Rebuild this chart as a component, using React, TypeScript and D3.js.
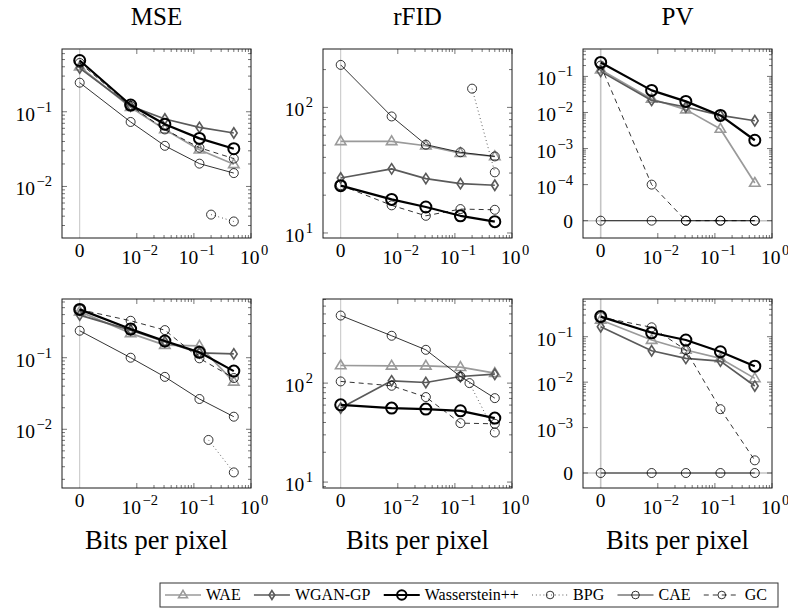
import React from 'react';
import * as d3 from 'd3';

// ---------------- data ----------------
const BPP = [0, 0.0078, 0.031, 0.125, 0.5];
const BPG_BPP_TOP = [0.2, 0.5];
const BPG_BPP_BOTTOM = [0.18, 0.5];

const TITLES = ['MSE', 'rFID', 'PV'];
const X_LABEL = 'Bits per pixel';
const LEGEND = ['WAE', 'WGAN-GP', 'Wasserstein++', 'BPG', 'CAE', 'GC'];

// Row 1
const MSE1_WAE = [0.4, 0.115, 0.058, 0.031, 0.0198];
const MSE1_WGAN = [0.384, 0.119, 0.08, 0.0617, 0.052];
const MSE1_WPP = [0.485, 0.123, 0.068, 0.044, 0.032];
const MSE1_BPG = [0.0042, 0.0034];
const MSE1_CAE = [0.245, 0.073, 0.035, 0.0202, 0.0151];
const MSE1_GC = [0.45, 0.12, 0.058, 0.033, 0.0236];

const FID1_WAE = [53.7, 53.7, 49.5, 43.3, 40.7];
const FID1_WGAN = [27.4, 32.4, 27.1, 24.7, 24.0];
const FID1_WPP = [23.8, 18.5, 16.1, 13.7, 12.3];
const FID1_BPG = [141, 30.4];
const FID1_CAE = [218, 84.7, 50.5, 43.9, 40.7];
const FID1_GC = [24, 16.6, 13.7, 15.5, 15.3];

const PV1_WAE = [0.153, 0.0237, 0.012, 0.0035, 0.000111];
const PV1_WGAN = [0.138, 0.0216, 0.0142, 0.0083, 0.0059];
const PV1_WPP = [0.244, 0.041, 0.0203, 0.0083, 0.0017];
const PV1_CAE = [0, 0, 0, 0, 0];
const PV1_GC = [0.2, 0.0001, 0, 0, 0];

// Row 2
const MSE2_WAE = [0.44, 0.219, 0.15, 0.146, 0.046];
const MSE2_WGAN = [0.394, 0.243, 0.167, 0.117, 0.113];
const MSE2_WPP = [0.473, 0.251, 0.171, 0.119, 0.065];
const MSE2_BPG = [0.0071, 0.0025];
const MSE2_CAE = [0.238, 0.1, 0.054, 0.0265, 0.015];
const MSE2_GC = [0.47, 0.328, 0.243, 0.098, 0.052];

const FID2_WAE = [150.6, 149.6, 149.6, 145, 126];
const FID2_WGAN = [55.9, 105.5, 101.4, 116.6, 123];
const FID2_WPP = [60.3, 55.9, 54.6, 52.5, 44.3];
const FID2_BPG = [100, 31.7];
const FID2_CAE = [482, 301, 217, 116.6, 70.5];
const FID2_GC = [104, 94, 72.3, 39.4, 38.8];

const PV2_WAE = [0.234, 0.0845, 0.051, 0.0333, 0.0121];
const PV2_WGAN = [0.166, 0.049, 0.0333, 0.0291, 0.0082];
const PV2_WPP = [0.277, 0.122, 0.0845, 0.0467, 0.0225];
const PV2_CAE = [0, 0, 0, 0, 0];
const PV2_GC = [0.27, 0.161, 0.051, 0.00254, 0.00019];

// ---------------- styles ----------------
type Marker = 'tri' | 'dia' | 'circ';
interface Style { color: string; width: number; dash?: string; marker: Marker; r: number; mw: number }
const STYLES: Record<string, Style> = {
  'WAE': { color: '#9a9a9a', width: 1.7, marker: 'tri', r: 5.5, mw: 1.6 },
  'WGAN-GP': { color: '#5a5a5a', width: 1.7, marker: 'dia', r: 5.2, mw: 1.6 },
  'Wasserstein++': { color: '#000', width: 2.2, marker: 'circ', r: 5.5, mw: 2 },
  'BPG': { color: '#000', width: 0.8, dash: '0.8,3', marker: 'circ', r: 4.5, mw: 0.8 },
  'CAE': { color: '#000', width: 0.8, marker: 'circ', r: 4.5, mw: 0.8 },
  'GC': { color: '#000', width: 0.8, dash: '5,4', marker: 'circ', r: 4.5, mw: 0.8 },
};

interface SeriesDef { name: string; xs: number[]; ys: number[] }
interface PanelDef {
  col: number; row: number;
  yLog: [number, number];
  yMajor: number[]; // exponents
  zeroExp: number | null;
  series: SeriesDef[];
}

const mk = (wae: number[], wgan: number[], wpp: number[], bpg: number[] | null, bpgX: number[], cae: number[], gc: number[]): SeriesDef[] => {
  const s: SeriesDef[] = [
    { name: 'WAE', xs: BPP, ys: wae },
    { name: 'WGAN-GP', xs: BPP, ys: wgan },
    { name: 'Wasserstein++', xs: BPP, ys: wpp },
  ];
  if (bpg) s.push({ name: 'BPG', xs: bpgX, ys: bpg });
  s.push({ name: 'CAE', xs: BPP, ys: cae });
  s.push({ name: 'GC', xs: BPP, ys: gc });
  return s;
};

const PANELS: PanelDef[] = [
  { col: 0, row: 0, yLog: [-2.69, -0.16], yMajor: [-2, -1], zeroExp: null, series: mk(MSE1_WAE, MSE1_WGAN, MSE1_WPP, MSE1_BPG, BPG_BPP_TOP, MSE1_CAE, MSE1_GC) },
  { col: 1, row: 0, yLog: [0.96, 2.465], yMajor: [1, 2], zeroExp: null, series: mk(FID1_WAE, FID1_WGAN, FID1_WPP, FID1_BPG, BPG_BPP_TOP, FID1_CAE, FID1_GC) },
  { col: 2, row: 0, yLog: [-5.48, -0.24], yMajor: [-4, -3, -2, -1], zeroExp: -5, series: mk(PV1_WAE, PV1_WGAN, PV1_WPP, null, BPG_BPP_TOP, PV1_CAE, PV1_GC) },
  { col: 0, row: 1, yLog: [-2.82, -0.18], yMajor: [-2, -1], zeroExp: null, series: mk(MSE2_WAE, MSE2_WGAN, MSE2_WPP, MSE2_BPG, BPG_BPP_BOTTOM, MSE2_CAE, MSE2_GC) },
  { col: 1, row: 1, yLog: [0.94, 2.85], yMajor: [1, 2], zeroExp: null, series: mk(FID2_WAE, FID2_WGAN, FID2_WPP, FID2_BPG, BPG_BPP_BOTTOM, FID2_CAE, FID2_GC) },
  { col: 2, row: 1, yLog: [-4.33, -0.17], yMajor: [-3, -2, -1], zeroExp: -4, series: mk(PV2_WAE, PV2_WGAN, PV2_WPP, null, BPG_BPP_BOTTOM, PV2_CAE, PV2_GC) },
];

// ---------------- layout ----------------
const COL_X = [62, 323, 583];
const ROW_Y = [49, 299];
const PW = 189;
const PH = 189;
const X_LOG: [number, number] = [-3.31, 0];
const X_ZERO = -3;
const FONT = '"Liberation Serif", "DejaVu Serif", serif';
const AXIS_COLOR = '#1a1a1a';
const TICK_FS = 19.5;
const SUP_FS = 14.5;

const MarkerShape: React.FC<{ m: Marker; x: number; y: number; st: Style }> = ({ m, x, y, st }) => {
  if (m === 'circ') return <circle cx={x} cy={y} r={st.r} fill="none" stroke={st.color} strokeWidth={st.mw} />;
  if (m === 'tri') {
    const r = st.r;
    const p = d3.path();
    p.moveTo(x, y - r); p.lineTo(x + r * 0.95, y + r * 0.6); p.lineTo(x - r * 0.95, y + r * 0.6); p.closePath();
    return <path d={p.toString()} fill="none" stroke={st.color} strokeWidth={st.mw} strokeLinejoin="miter" />;
  }
  const p = d3.path();
  const h = st.r, w = st.r * 0.65;
  p.moveTo(x, y - h); p.lineTo(x + w, y); p.lineTo(x, y + h); p.lineTo(x - w, y); p.closePath();
  return <path d={p.toString()} fill="none" stroke={st.color} strokeWidth={st.mw} />;
};

const Pow: React.FC<{ x: number; y: number; exp: string; anchor: string }> = ({ x, y, exp, anchor }) => (
  <text x={x} y={y} fontFamily={FONT} fontSize={TICK_FS} textAnchor={anchor} fill="#000">
    <tspan>10</tspan>
    <tspan dx={1.5} dy={-9} fontSize={SUP_FS}>{exp}</tspan>
  </text>
);

const expLabel = (e: number) => (e < 0 ? `\u2212${-e}` : `${e}`);

const Panel: React.FC<{ p: PanelDef }> = ({ p }) => {
  const x0 = COL_X[p.col];
  const y0 = ROW_Y[p.row];
  const xs = d3.scaleLog().domain([10 ** X_LOG[0], 10 ** X_LOG[1]]).range([0, PW]);
  const ys = d3.scaleLog().domain([10 ** p.yLog[0], 10 ** p.yLog[1]]).range([PH, 0]);
  const fx = (v: number) => xs(v === 0 ? 10 ** X_ZERO : v);
  const fy = (v: number) => ys(v === 0 ? 10 ** (p.zeroExp ?? -10) : v);

  const xMajor = [-2, -1, 0];
  const xMinor: number[] = [];
  for (let k = -2; k < 0; k++) for (let m = 2; m <= 9; m++) xMinor.push(m * 10 ** k);
  const yMinor: number[] = [];
  const kStart = Math.floor(p.yLog[0]);
  const kEnd = Math.ceil(p.yLog[1]);
  for (let k = kStart; k <= kEnd; k++) {
    if (p.zeroExp !== null && k <= p.zeroExp) continue;
    for (let m = 2; m <= 9; m++) {
      const v = m * 10 ** k;
      const l = Math.log10(v);
      if (l > p.yLog[0] && l < p.yLog[1]) yMinor.push(v);
    }
  }
  const yMajorVals = p.yMajor.map((e) => 10 ** e);
  const yMajorAll: number[] = [];
  for (let k = kStart; k <= kEnd; k++) {
    if (p.zeroExp !== null && k <= p.zeroExp) continue;
    if (k >= p.yLog[0] && k <= p.yLog[1]) yMajorAll.push(10 ** k);
  }

  const line = d3.line<[number, number]>().x((d) => d[0]).y((d) => d[1]);
  const MAJ = 5, MIN = 3;
  const cid = `clip-${p.col}-${p.row}`;

  return (
    <g transform={`translate(${x0},${y0})`}>
      <defs>
        <clipPath id={cid}>
          <rect x={-8} y={-8} width={PW + 16} height={PH + 16} />
        </clipPath>
      </defs>
      <line x1={fx(0)} x2={fx(0)} y1={0} y2={PH} stroke="#c4c4c4" strokeWidth={p.zeroExp !== null ? 1.6 : 1} />
      {p.zeroExp !== null && (
        <line x1={0} x2={PW} y1={fy(0)} y2={fy(0)} stroke="#c4c4c4" strokeWidth={1.6} />
      )}
      {xMinor.map((v, i) => (
        <g key={`xm${i}`} stroke={AXIS_COLOR} strokeWidth={0.6}>
          <line x1={xs(v)} x2={xs(v)} y1={PH} y2={PH - MIN} />
          <line x1={xs(v)} x2={xs(v)} y1={0} y2={MIN} />
        </g>
      ))}
      {xMajor.map((e, i) => (
        <g key={`xM${i}`} stroke={AXIS_COLOR} strokeWidth={0.6}>
          <line x1={xs(10 ** e)} x2={xs(10 ** e)} y1={PH} y2={PH - MAJ} />
          <line x1={xs(10 ** e)} x2={xs(10 ** e)} y1={0} y2={MAJ} />
        </g>
      ))}
      {yMinor.map((v, i) => (
        <g key={`ym${i}`} stroke={AXIS_COLOR} strokeWidth={0.6}>
          <line x1={0} x2={MIN} y1={ys(v)} y2={ys(v)} />
          <line x1={PW} x2={PW - MIN} y1={ys(v)} y2={ys(v)} />
        </g>
      ))}
      {yMajorAll.map((v, i) => (
        <g key={`yM${i}`} stroke={AXIS_COLOR} strokeWidth={0.6}>
          <line x1={0} x2={MAJ} y1={ys(v)} y2={ys(v)} />
          <line x1={PW} x2={PW - MAJ} y1={ys(v)} y2={ys(v)} />
        </g>
      ))}
      {p.zeroExp !== null && (
        <g stroke={AXIS_COLOR} strokeWidth={0.6}>
          <line x1={0} x2={MAJ} y1={fy(0)} y2={fy(0)} />
          <line x1={PW} x2={PW - MAJ} y1={fy(0)} y2={fy(0)} />
        </g>
      )}
      <g clipPath={`url(#${cid})`}>
        {p.series.map((s) => {
          const st = STYLES[s.name];
          const pts: [number, number][] = s.xs.map((xv, i) => [fx(xv), fy(s.ys[i])]);
          return (
            <g key={s.name}>
              <path d={line(pts) || ''} fill="none" stroke={st.color} strokeWidth={st.width} strokeDasharray={st.dash} strokeLinejoin="round" />
              {pts.map((pt, i) => <MarkerShape key={i} m={st.marker} x={pt[0]} y={pt[1]} st={st} />)}
            </g>
          );
        })}
      </g>
      <rect x={0} y={0} width={PW} height={PH} fill="none" stroke={AXIS_COLOR} strokeWidth={1} />
      <text x={fx(0)} y={PH + 19} fontFamily={FONT} fontSize={TICK_FS} textAnchor="middle">0</text>
      {xMajor.map((e) => (
        <Pow key={`xl${e}`} x={xs(10 ** e) + 3} y={PH + 26} exp={expLabel(e)} anchor="middle" />
      ))}
      {yMajorVals.map((v, i) => (
        <Pow key={`yl${i}`} x={-10} y={ys(v) + 9} exp={expLabel(p.yMajor[i])} anchor="end" />
      ))}
      {p.zeroExp !== null && (
        <text x={-10} y={fy(0) + 7} fontFamily={FONT} fontSize={TICK_FS} textAnchor="end">0</text>
      )}
      {p.row === 0 && (
        <text x={PW / 2} y={-24} fontFamily={FONT} fontSize={25} textAnchor="middle">{TITLES[p.col]}</text>
      )}
      {p.row === 1 && (
        <text x={PW / 2} y={PH + 61} fontFamily={FONT} fontSize={26.5} textAnchor="middle">{X_LABEL}</text>
      )}
    </g>
  );
};

const LEG_FS = 16;
const measure = (() => {
  let ctx: CanvasRenderingContext2D | null = null;
  return (s: string) => {
    if (!ctx && typeof document !== 'undefined') {
      ctx = document.createElement('canvas').getContext('2d');
    }
    if (!ctx) return s.length * LEG_FS * 0.5;
    ctx.font = `${LEG_FS}px "Liberation Serif"`;
    return ctx.measureText(s).width;
  };
})();

const Legend: React.FC = () => {
  const bx = 160, by = 583, bw = 618, bh = 24;
  const cy = by + bh / 2;
  const sampleW = 36;
  const pad = 5, gapText = 5;
  const widths = LEGEND.map((n) => measure(n));
  const used = widths.reduce((a, b) => a + b, 0) + LEGEND.length * (sampleW + gapText);
  const gap = (bw - 2 * pad - 6 - used) / (LEGEND.length - 1);
  let cx = bx + pad;
  const entries = LEGEND.map((n, i) => {
    const e = { name: n, x: cx };
    cx += sampleW + gapText + widths[i] + gap;
    return e;
  });
  return (
    <g>
      <rect x={bx} y={by} width={bw} height={bh} fill="#fff" stroke="#333" strokeWidth={1} />
      {entries.map((e) => {
        const st = STYLES[e.name];
        return (
          <g key={e.name}>
            <line x1={e.x} x2={e.x + sampleW} y1={cy} y2={cy} stroke={st.color} strokeWidth={st.width} strokeDasharray={st.dash} />
            <MarkerShape m={st.marker} x={e.x + sampleW / 2} y={cy} st={{ ...st, r: st.r * 0.85 }} />
            <text x={e.x + sampleW + gapText} y={cy + 5} fontFamily={FONT} fontSize={LEG_FS}>{e.name}</text>
          </g>
        );
      })}
    </g>
  );
};

export default function App() {
  return (
    <svg width={788} height={616} style={{ position: 'absolute', left: 0, top: 0, background: '#fff' }}>
      <rect x={0} y={0} width={788} height={616} fill="#fff" />
      {PANELS.map((p) => <Panel key={`${p.col}-${p.row}`} p={p} />)}
      <Legend />
    </svg>
  );
}
